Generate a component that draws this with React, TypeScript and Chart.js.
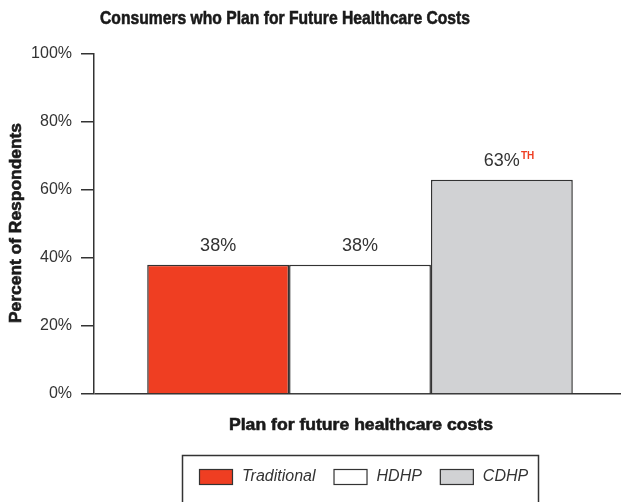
import React, { useEffect, useRef } from "react";
import { Chart, registerables } from "chart.js";

Chart.register(...registerables);

const chartTitle = "Consumers who Plan for Future Healthcare Costs";
const xTitle = "Plan for future healthcare costs";
const yTitle = "Percent of Respondents";
const categories = [""];
const seriesNames = ["Traditional", "HDHP", "CDHP"];
const seriesValues = [38, 38, 63];
const seriesNotes = ["", "", "TH"];
const seriesColors = ["#EF3E22", "#FFFFFF", "#D1D2D4"];
const yTicks = [0, 20, 40, 60, 80, 100];

const DARK = "#333333";
const SANS = '"Liberation Sans", Arial, sans-serif';

function fitText(ctx: CanvasRenderingContext2D, text: string, cx: number, cy: number, target: number, rot = 0) {
  const w = ctx.measureText(text).width;
  const sx = Math.min(1.15, target / w);
  ctx.save();
  ctx.translate(cx, cy);
  if (rot) ctx.rotate(rot);
  ctx.scale(sx, 1);
  ctx.fillText(text, 0, 0);
  ctx.lineWidth = 0.6;
  ctx.strokeStyle = ctx.fillStyle as string;
  ctx.strokeText(text, 0, 0);
  ctx.restore();
}

const decorPlugin = {
  id: "decor",
  afterDraw(chart: any) {
    const ctx = chart.ctx as CanvasRenderingContext2D;
    ctx.save();
    ctx.fillStyle = "#1a1a1a";
    ctx.textAlign = "center";
    ctx.textBaseline = "middle";
    ctx.font = `bold 19px ${SANS}`;
    fitText(ctx, chartTitle, 285, 19, 370);
    ctx.font = `bold 17px ${SANS}`;
    fitText(ctx, xTitle, 361, 425, 264);
    fitText(ctx, yTitle, 16, 223, 200, -Math.PI / 2);
    // value labels
    chart.data.datasets.forEach((ds: any, i: number) => {
      const meta = chart.getDatasetMeta(i);
      meta.data.forEach((bar: any, j: number) => {
        const v = ds.data[j];
        const txt = `${v}%`;
        ctx.font = `18px ${SANS}`;
        ctx.fillStyle = DARK;
        ctx.textAlign = "center";
        ctx.textBaseline = "middle";
        const y = bar.y - 19;
        ctx.fillText(txt, bar.x, y);
        const note = seriesNotes[i];
        if (note) {
          const w = ctx.measureText(txt).width;
          ctx.font = `bold 10px ${SANS}`;
          ctx.fillStyle = "#EF3E22";
          ctx.textAlign = "left";
          ctx.fillText(note, bar.x + w / 2 + 1, y - 5);
        }
      });
    });
    // legend box
    ctx.strokeStyle = DARK;
    ctx.lineWidth = 1.5;
    ctx.strokeRect(182.5, 455.5, 356, 50);
    let x = 199;
    const sy = 469;
    chart.data.datasets.forEach((ds: any) => {
      ctx.fillStyle = ds.backgroundColor;
      ctx.fillRect(x, sy, 34, 16);
      ctx.strokeStyle = DARK;
      ctx.lineWidth = 1.2;
      ctx.strokeRect(x + 0.5, sy + 0.5, 33, 15);
      x += 34 + 9;
      ctx.font = `italic 16px ${SANS}`;
      ctx.fillStyle = DARK;
      ctx.textAlign = "left";
      ctx.textBaseline = "middle";
      ctx.fillText(ds.label, x, sy + 8);
      x += ctx.measureText(ds.label).width + 18;
    });
    ctx.restore();
  },
};

export default function App() {
  const ref = useRef<HTMLCanvasElement>(null);
  useEffect(() => {
    document.body.style.margin = "0";
    const chart = new Chart(ref.current!, {
      type: "bar",
      data: {
        labels: categories,
        datasets: seriesNames.map((name, i) => ({
          label: name,
          data: [seriesValues[i]],
          backgroundColor: seriesColors[i],
          borderColor: DARK,
          borderWidth: 1.5,
          barPercentage: 1,
          categoryPercentage: 0.8,
        })),
      },
      options: {
        animation: false,
        responsive: false,
        layout: { padding: { top: 54, bottom: 108, right: 0, left: 0 } },
        plugins: { legend: { display: false }, title: { display: false }, tooltip: { enabled: false } },
        scales: {
          x: { display: false },
          y: {
            min: 0,
            max: 100,
            afterFit: (s: any) => { s.width = 94; },
            afterBuildTicks: (s: any) => { s.ticks = yTicks.map((v) => ({ value: v })); },
            ticks: {
              color: DARK,
              font: { family: SANS, size: 16 },
              padding: 9,
              callback: (v: any) => `${v}%`,
            },
            border: { display: true, color: DARK, width: 1.5 },
            grid: {
              drawOnChartArea: true,
              tickLength: 13,
              tickColor: DARK,
              color: (c: any) => (c.tick && c.tick.value === 0 ? DARK : "rgba(0,0,0,0)"),
              lineWidth: 1.5,
            },
          },
        },
      },
      plugins: [decorPlugin],
    });
    return () => chart.destroy();
  }, []);
  return (
    <div style={{ width: 621, height: 502, overflow: "hidden" }}>
      <canvas ref={ref} width={626} height={502} style={{ display: "block" }} />
    </div>
  );
}
